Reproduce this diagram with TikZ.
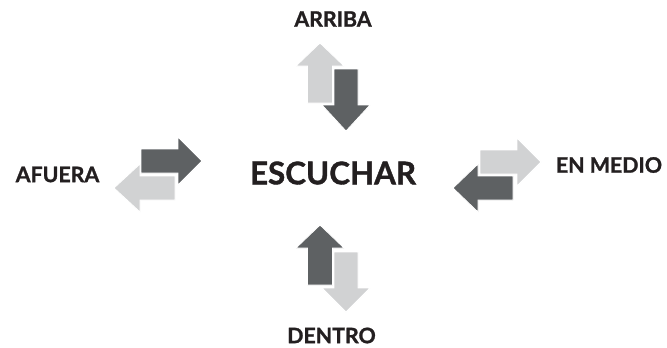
\documentclass[tikz,border=0pt]{standalone}
\usepackage{fontspec}
\setmainfont{Lato}[BoldFeatures={FakeBold=1.2}]
\definecolor{darkarr}{HTML}{5E6163}
\definecolor{lightarr}{HTML}{D1D2D3}
\definecolor{txt}{HTML}{231F20}
\tikzset{
  darkshape/.style={fill=darkarr, draw=white, line width=0.6pt},
  lightshape/.style={fill=lightarr, draw=white, line width=0.6pt},
  lbl/.style={text=txt, font=\bfseries\fontsize{16}{18}\selectfont, inner sep=0pt, anchor=center},
  mainlbl/.style={text=txt, font=\bfseries\fontsize{23.5}{26}\selectfont, inner sep=0pt, anchor=center}
}
\begin{document}
\begin{tikzpicture}[x=0.75pt,y=-0.75pt]
\useasboundingbox (0,0) rectangle (667,347);
% top pair
\fill[lightshape] (307.5,103) -- (307.5,66) -- (296,66) -- (320,43) -- (344,66) -- (332.5,66) -- (332.5,103) -- cycle;
\fill[darkshape] (334,69) -- (334,105) -- (322,105) -- (346,131) -- (370,105) -- (358,105) -- (358,69) -- cycle;
% bottom pair
\fill[darkshape] (307.5,285) -- (307.5,248) -- (296,248) -- (320,225) -- (344,248) -- (332.5,248) -- (332.5,285) -- cycle;
\fill[lightshape] (334,252) -- (334,288) -- (322,288) -- (346,312) -- (370,288) -- (358,288) -- (358,252) -- cycle;
% left pair
\fill[darkshape] (141,149) -- (178,149) -- (178,137) -- (202,161) -- (178,185) -- (178,173) -- (141,173) -- cycle;
\fill[lightshape] (175,176) -- (140,176) -- (140,164) -- (114,188) -- (140,212) -- (140,200) -- (175,200) -- cycle;
% right pair
\fill[lightshape] (480,150) -- (517,150) -- (517,138) -- (541,162) -- (517,186) -- (517,174) -- (480,174) -- cycle;
\fill[darkshape] (513,176) -- (478,176) -- (478,164) -- (453,188) -- (478,212) -- (478,200) -- (513,200) -- cycle;
% labels
\node[mainlbl] (escuchar) at (333,173) {ESCUCHAR};
\node[lbl] (arriba) at (333,19) {ARRIBA};
\node[lbl] (afuera) at (57.5,174.5) {AFUERA};
\node[lbl] (enmedio) at (609,165) {EN MEDIO};
\node[lbl] (dentro) at (331.5,335.5) {DENTRO};
\end{tikzpicture}
\end{document}
